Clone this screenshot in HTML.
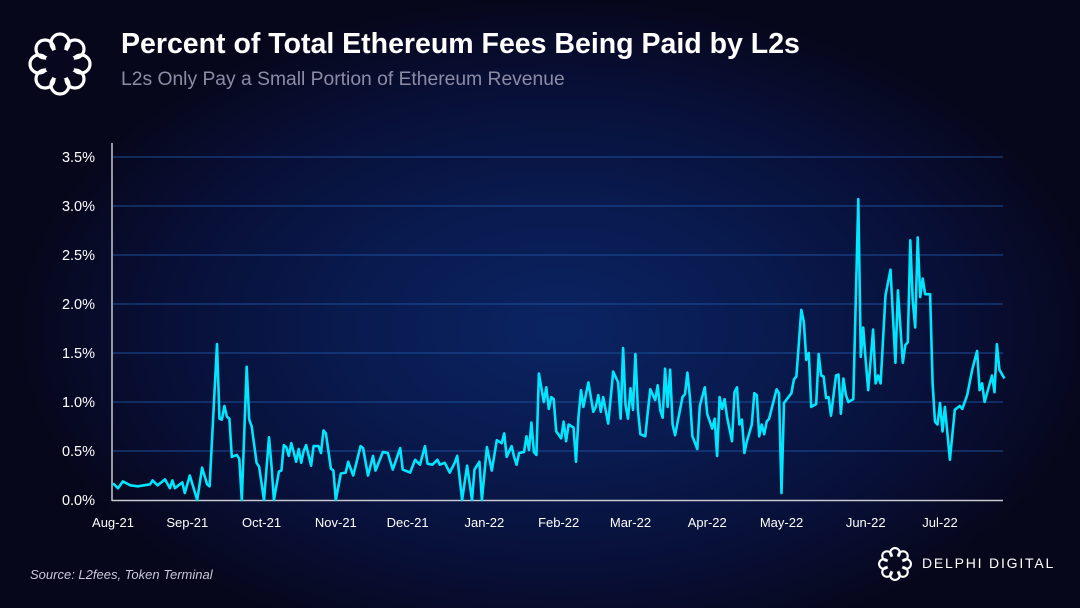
<!DOCTYPE html>
<html><head><meta charset="utf-8"><style>
html,body{margin:0;padding:0;}
body{width:1080px;height:608px;overflow:hidden;background:#07071f;font-family:"Liberation Sans",sans-serif;}
#bg{position:absolute;left:0;top:0;width:1080px;height:608px;background:radial-gradient(ellipse 540px 330px at 560px 330px,#0a2463 0%,#091a4e 40%,#080f36 75%,#07071c 100%);}
.t{position:absolute;color:#fff;white-space:nowrap;}
</style></head><body>
<div id="bg"></div>
<svg style="position:absolute;left:28px;top:32px" width="64" height="64" viewBox="0 0 64 64">
<g fill="none" stroke="#fff" stroke-width="3.2">
<circle cx="32" cy="11" r="9"/><circle cx="47" cy="17" r="9"/><circle cx="53" cy="32" r="9"/><circle cx="47" cy="47" r="9"/><circle cx="32" cy="53" r="9"/><circle cx="17" cy="47" r="9"/><circle cx="11" cy="32" r="9"/><circle cx="17" cy="17" r="9"/>
</g><circle cx="32" cy="32" r="15" fill="#07071f"/></svg>
<div class="t" style="left:121px;top:28px;font-size:28.5px;font-weight:bold">Percent of Total Ethereum Fees Being Paid by L2s</div>
<div class="t" style="left:121px;top:69px;font-size:19.3px;color:#8c8ca6">L2s Only Pay a Small Portion of Ethereum Revenue</div>
<div class="t" style="left:30px;top:567px;font-size:13px;font-style:italic;color:#c8c8d8">Source: L2fees, Token Terminal</div>
<svg style="position:absolute;left:878px;top:547px" width="34" height="34" viewBox="0 0 64 64">
<g fill="none" stroke="#fff" stroke-width="4">
<circle cx="32" cy="11" r="9"/><circle cx="47" cy="17" r="9"/><circle cx="53" cy="32" r="9"/><circle cx="47" cy="47" r="9"/><circle cx="32" cy="53" r="9"/><circle cx="17" cy="47" r="9"/><circle cx="11" cy="32" r="9"/><circle cx="17" cy="17" r="9"/>
</g><circle cx="32" cy="32" r="15" fill="#07071f"/></svg>
<div class="t" style="left:922px;top:555px;font-size:14px;letter-spacing:1.8px">DELPHI DIGITAL</div>
<svg id="chart" style="position:absolute;left:0;top:0" width="1080" height="608"></svg>
<script>
const days=[0,2,4,7,10,15,16,18,21,23,24,25,28,29,31,34,36,38,39,42,43,44,45,46,47,48,50,51,52,54,55,56,58,59,61,63,64,65,67,68,69,70,71,72,74,75,76,77,78,80,81,83,84,85,86,88,89,90,92,94,95,97,100,101,103,105,106,109,111,113,116,117,120,122,124,126,127,129,131,132,134,136,138,139,141,143,145,146,
148,149,151,153,155,157,158,159,161,162,163,164,166,167,168,169,170,171,172,174,175,176,177,178,179,181,182,183,184,186,187,188,189,190,192,194,195,196,197,198,200,202,204,205,206,207,208,209,210,211,212,213,215,216,217,219,220,221,222,223,224,225,226,227,228,230,231,232,233,234,236,237,239,240,242,243,244,245,246,247,248,250,251,252,253,254,255,256,258,259,260,261,262,263,264,265,267,268,269,270,271,
274,275,276,278,279,280,281,282,284,285,286,287,288,289,290,292,293,294,295,296,297,299,301,302,303,304,305,307,308,309,310,312,314,316,317,319,320,321,322,323,324,325,326,327,328,330,331,332,333,334,335,336,338,340,342,343,345,347,349,350,351,352,355,356,357,358,360];
const feePct=[0.17,0.12,0.19,0.15,0.14,0.16,0.2,0.15,0.21,0.12,0.2,0.12,0.18,0.07,0.25,0.0,0.33,0.16,0.14,1.59,0.83,0.82,0.96,0.85,0.83,0.44,0.46,0.42,0,1.36,0.82,0.75,0.38,0.34,0,0.64,0.35,0,0.29,0.3,0.56,0.54,0.45,0.58,0.39,0.52,0.38,0.5,0.56,0.35,0.55,0.55,0.48,0.71,0.68,0.32,0.3,0,0.27,0.28,0.39,0.25,0.55,0.53,0.25,0.45,0.3,0.49,0.48,0.31,0.53,0.31,0.28,0.41,0.36,0.55,0.37,0.36,0.41,0.36,0.38,0.28,0.38,0.45,0,0.35,0,0.31,
0.39,0,0.54,0.3,0.61,0.58,0.68,0.44,0.55,0.44,0.36,0.48,0.49,0.65,0.51,0.79,0.49,0.46,1.29,1.0,1.15,0.93,1.05,1.03,0.7,0.63,0.8,0.6,0.77,0.74,0.39,0.85,1.12,0.95,1.2,0.9,0.95,1.07,0.9,1.05,0.78,1.31,1.2,0.83,1.55,0.97,0.83,1.14,0.92,1.49,0.92,0.67,0.65,0.9,1.13,1.02,1.17,0.92,0.84,1.34,0.95,1.33,0.77,0.66,0.79,1.05,1.08,1.3,1.05,0.65,0.52,0.96,1.15,0.88,0.73,0.83,0.45,1.05,0.93,1.03,0.85,0.6,1.1,1.15,0.77,0.82,0.48,0.6,0.77,1.09,1.07,0.65,0.77,0.67,0.8,0.83,1.03,1.13,1.09,0.07,0.99,
1.09,1.23,1.26,1.94,1.82,1.43,1.5,0.95,0.98,1.49,1.27,1.26,1.04,1.05,0.86,1.27,1.28,0.88,1.24,1.07,1.0,1.03,3.07,1.46,1.76,1.42,1.12,1.74,1.19,1.27,1.19,2.09,2.35,1.4,2.14,1.4,1.58,1.61,2.65,2.04,1.76,2.68,2.07,2.26,2.1,2.1,1.19,0.8,0.77,0.99,0.7,0.95,0.41,0.92,0.96,0.93,1.07,1.33,1.52,1.12,1.19,1.0,1.27,1.1,1.59,1.33,1.24];
const yTicks=[0,0.5,1,1.5,2,2.5,3,3.5];
const yTickLabels=["0.0%","0.5%","1.0%","1.5%","2.0%","2.5%","3.0%","3.5%"];
const xTickDays=[0,30,60,90,119,150,180,209,240,270,304,334];
const xTickLabels=["Aug-21","Sep-21","Oct-21","Nov-21","Dec-21","Jan-22","Feb-22","Mar-22","Apr-22","May-22","Jun-22","Jul-22"];
const X0=113,X1=1003,Y0=500,PXD=2.476,PXV=98;
const xs=d=>X0+d*PXD, ys=v=>Y0-v*PXV;
const svg=document.getElementById('chart'),NS='http://www.w3.org/2000/svg';
function mk(t,a){const e=document.createElementNS(NS,t);for(const k in a)e.setAttribute(k,a[k]);svg.appendChild(e);return e;}
yTicks.forEach((v,i)=>{
  if(v>0){const g=mk('line',{x1:X0,x2:X1,y1:ys(v),y2:ys(v),stroke:'#1d4f9a','stroke-width':1.3,'stroke-opacity':0.8});
  
  }
  const t=mk('text',{x:95,y:ys(v)+5,'text-anchor':'end','font-size':14.5,fill:'#fff','font-family':'Liberation Sans, sans-serif'});
  t.textContent=yTickLabels[i];
  
  
});
xTickDays.forEach((d,i)=>{
  const t=mk('text',{x:xs(d),y:527,'text-anchor':'middle','font-size':13,fill:'#fff','font-family':'Liberation Sans, sans-serif'});
  t.textContent=xTickLabels[i];
  
  
});
const ya=mk('line',{x1:X0-1,x2:X0-1,y1:143,y2:Y0+1,stroke:'#c8c8d0','stroke-width':1.5});


const xa=mk('line',{x1:X0-1,x2:X1,y1:Y0+0.5,y2:Y0+0.5,stroke:'#c8c8d0','stroke-width':1.5});


const pts=days.map((d,i)=>xs(d).toFixed(1)+','+ys(feePct[i]).toFixed(1)).join(' ');
const ln=mk('polyline',{points:pts,fill:'none',stroke:'#00e6ff','stroke-width':2.6,'stroke-linejoin':'round'});


</script>
</body></html>
